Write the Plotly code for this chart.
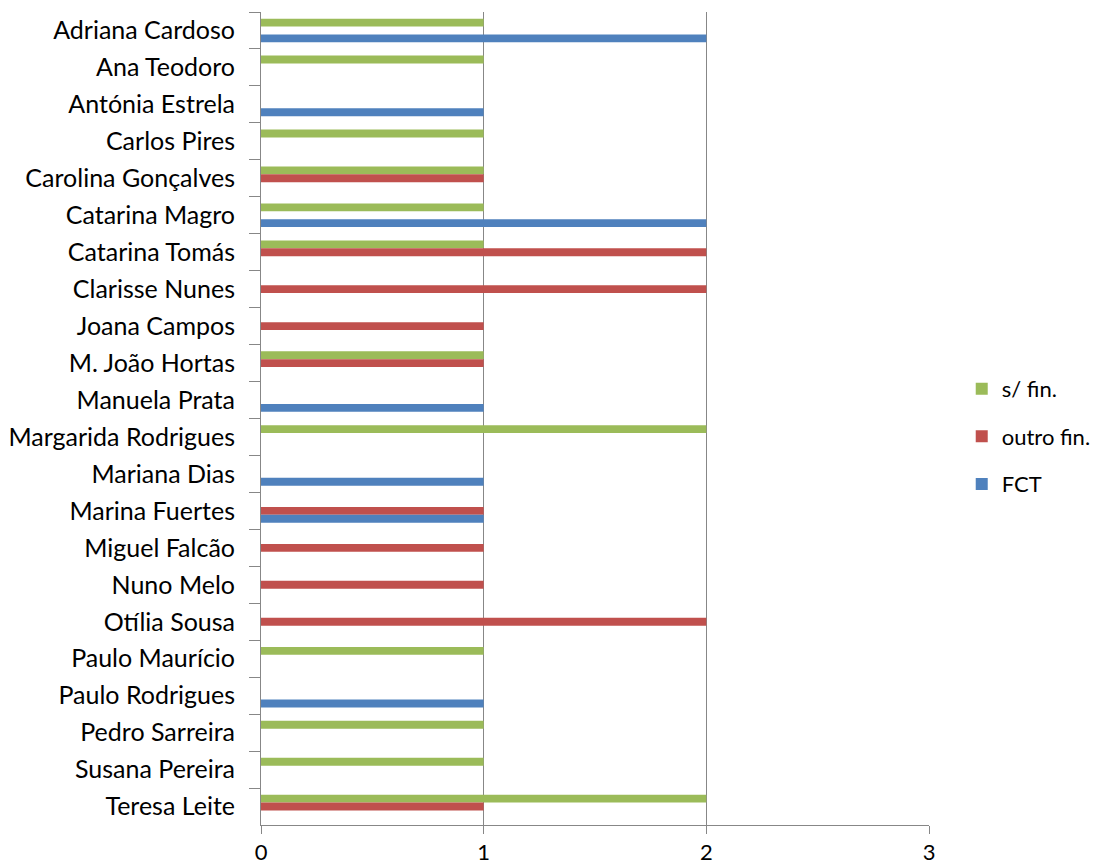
import plotly.graph_objects as go

# Researchers and number of projects per funding type
names = [
    "Adriana Cardoso", "Ana Teodoro", "Antónia Estrela", "Carlos Pires",
    "Carolina Gonçalves", "Catarina Magro", "Catarina Tomás", "Clarisse Nunes",
    "Joana Campos", "M. João Hortas", "Manuela Prata", "Margarida Rodrigues",
    "Mariana Dias", "Marina Fuertes", "Miguel Falcão", "Nuno Melo",
    "Otília Sousa", "Paulo Maurício", "Paulo Rodrigues", "Pedro Sarreira",
    "Susana Pereira", "Teresa Leite",
]
sem_fin = [1, 1, 0, 1, 1, 1, 1, 0, 0, 1, 0, 2, 0, 0, 0, 0, 0, 1, 0, 1, 1, 2]
outro_fin = [0, 0, 0, 0, 1, 0, 2, 2, 1, 1, 0, 0, 0, 1, 1, 1, 2, 0, 0, 0, 0, 1]
fct = [2, 0, 1, 0, 0, 2, 0, 0, 0, 0, 1, 0, 1, 1, 0, 0, 0, 0, 1, 0, 0, 0]
x_ticks = [0, 1, 2, 3]

series = [
    ("s/ fin.", sem_fin, "#9BBB59"),
    ("outro fin.", outro_fin, "#C0504D"),
    ("FCT", fct, "#4F81BD"),
]

font_family = "Lato, 'Open Sans', sans-serif"

fig = go.Figure()
for label, values, color in series:
    fig.add_trace(go.Bar(
        y=names, x=values, name=label, orientation="h",
        legendgroup=label,
        marker=dict(color=color, line=dict(width=0)),
    ))

fig.update_layout(
    width=1103, height=867,
    margin=dict(l=261, r=174, t=12, b=42, autoexpand=False),
    paper_bgcolor="white", plot_bgcolor="white",
    barmode="group", bargap=0.36, bargroupgap=0,
    font=dict(family=font_family, size=25, color="#000000"),
    legend=dict(
        x=1.049, y=0.478, xanchor="left", yanchor="middle",
        font=dict(family=font_family, size=22, color="#000000"),
        itemsizing="constant", tracegroupgap=16, itemwidth=30,
        bgcolor="rgba(0,0,0,0)",
    ),
    showlegend=True,
)

fig.update_xaxes(
    range=[0, 3], tickmode="array", tickvals=x_ticks,
    ticktext=[str(t) for t in x_ticks],
    showgrid=True, gridcolor="#878787", gridwidth=1,
    showline=True, linecolor="#878787", linewidth=1,
    ticks="outside", ticklen=8, tickcolor="#878787",
    tickfont=dict(family=font_family, size=22, color="#000000"),
    ticklabelstandoff=0,
    zeroline=False, fixedrange=True,
)
fig.update_yaxes(
    type="category", categoryorder="array", categoryarray=names,
    autorange="reversed",
    showline=True, linecolor="#878787", linewidth=1,
    ticks="outside", ticklen=11, tickcolor="#878787",
    tickson="boundaries", showgrid=False,
    tickfont=dict(family=font_family, size=25, color="#000000"),
    ticklabelstandoff=20,
)

fig.write_html("out.html")
